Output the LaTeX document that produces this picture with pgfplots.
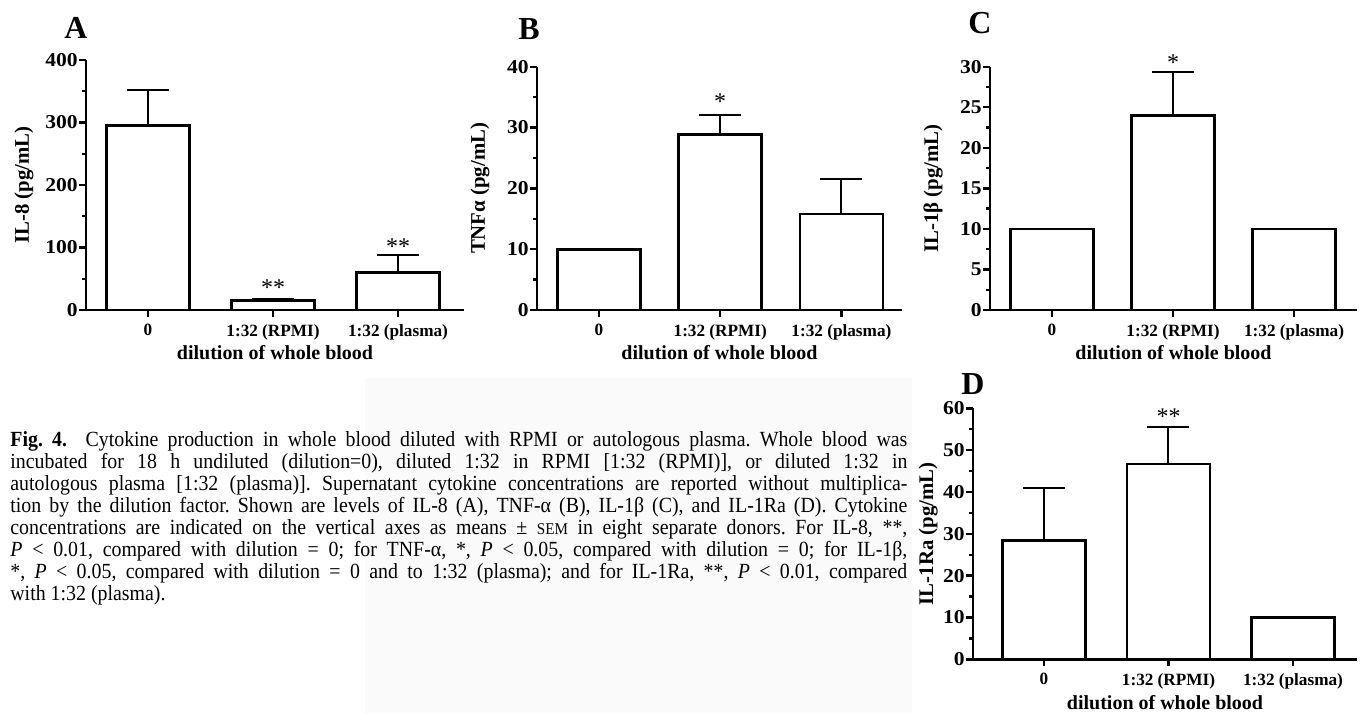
\documentclass[border=0pt]{standalone}
\usepackage{pgfplots}
\pgfplotsset{compat=1.18}
\usepackage{fontspec}
\setmainfont{Liberation Serif}
\newfontfamily\capfont[FakeStretch=0.92]{Liberation Serif}
\newfontfamily\tickfont[FakeStretch=1.1]{Liberation Serif}
\definecolor{bgfaint}{RGB}{250,250,250}

\pgfplotsset{
  prism/.style={
    scale only axis, anchor=south west,
    axis lines*=left,
    axis line style={line width=1.4pt},
    enlargelimits=false, clip=false,
    ymin=0,
    xtick={0,1,2}, xticklabels={0,{1:32 (RPMI)},{1:32 (plasma)}},
    tick align=outside,
    major tick length=3.5pt, minor tick length=2pt,
    tick style={line width=1.2pt, black},
    minor y tick num=1,
    yticklabel style={font=\tickfont\fontsize{9.8}{11}\selectfont\bfseries, inner sep=0.5pt},
    xticklabel style={font=\fontsize{8.6}{10}\selectfont\bfseries},
    /pgf/number format/assume math mode=true,
    xlabel={dilution of whole blood},
    xlabel style={font=\fontsize{10}{12}\selectfont\bfseries, anchor=center},
    ylabel style={font=\fontsize{10.4}{12}\selectfont\bfseries, anchor=center},
    ybar, bar width=41.5pt,
    error bars/y dir=plus, error bars/y explicit,
    error bars/error bar style={line width=1pt, black},
    error bars/error mark options={rotate=90, line width=1pt, black, mark size=10.5pt},
  },
  bars/.style={fill=white, draw=black, line width=1.4pt},
}
\tikzset{sig/.style={font=\fontsize{12}{12}\selectfont}}
\newcommand{\capline}[1]{\makebox[448.5pt][s]{#1}}

\begin{document}
\frenchspacing
\begin{tikzpicture}
\path[use as bounding box] (0,0) rectangle (680.5pt,-356.5pt);
\fill[bgfaint] (182.5pt,-189pt) rectangle (456pt,-356.5pt);

% A: IL-8
\begin{axis}[prism, at={(43pt,-155pt)}, width=189pt, height=125pt,
  xmin=-0.496, xmax=2.528, ymax=400, ytick={0,100,...,400},
  ylabel={IL-8 (pg/mL)},
  ylabel style={at={(axis description cs:-0.164,0.5)}},
  xlabel style={at={(axis description cs:0.5,-0.172)}}]
\addplot[bars] coordinates {(0,295) +- (0,57) (1,15) +- (0,2.5) (2,60) +- (0,28)};
\node[sig] at (axis cs:1,35) {**};
\node[sig] at (axis cs:2,102) {**};
\end{axis}

% B: TNF-alpha
\begin{axis}[prism, at={(268.5pt,-155pt)}, width=182.5pt, height=121.65pt,
  xmin=-0.512, xmax=2.5, ymax=40, ytick={0,10,...,40},
  ylabel={TNFα (pg/mL)},
  ylabel style={at={(axis description cs:-0.156,0.5)}},
  xlabel style={at={(axis description cs:0.5,-0.177)}}]
\addplot[bars] coordinates {(0,10) +- (0,0) (1,28.8) +- (0,3.3) (2,15.8) +- (0,5.7)};
\node[sig] at (axis cs:1,34.2) {*};
\end{axis}

% C: IL-1beta
\begin{axis}[prism, at={(495pt,-155pt)}, width=183.5pt, height=121.65pt,
  xmin=-0.512, xmax=2.52, ymax=30, ytick={0,5,...,30},
  ylabel={IL-1β (pg/mL)},
  ylabel style={at={(axis description cs:-0.155,0.5)}},
  xlabel style={at={(axis description cs:0.5,-0.177)}}]
\addplot[bars] coordinates {(0,10) +- (0,0) (1,24) +- (0,5.3) (2,10) +- (0,0)};
\node[sig] at (axis cs:1,30.5) {*};
\end{axis}

% D: IL-1Ra
\begin{axis}[prism, at={(486.5pt,-329.65pt)}, width=192pt, height=125.5pt,
  xmin=-0.57, xmax=2.514, ymax=60, ytick={0,10,...,60},
  ylabel={IL-1Ra (pg/mL)},
  ylabel style={at={(axis description cs:-0.117,0.5)}},
  xlabel style={at={(axis description cs:0.5,-0.171)}}]
\addplot[bars] coordinates {(0,28.4) +- (0,12.6) (1,46.7) +- (0,8.9) (2,10) +- (0,0)};
\node[sig] at (axis cs:1,58) {**};
\end{axis}

% panel letters
\begin{scope}[every node/.style={font=\fontsize{16}{18}\selectfont\bfseries}]
\node at (38pt,-14pt) {A};
\node at (264.5pt,-14.5pt) {B};
\node at (490pt,-11.5pt) {C};
\node at (486.5pt,-192pt) {D};
\end{scope}

% caption
\begin{scope}[every node/.style={anchor=base west, inner sep=0pt, font=\capfont\fontsize{10.8}{12}\selectfont}]
\node at (5pt,-223pt) {\capline{\textbf{Fig. 4.}\ \ Cytokine production in whole blood diluted with RPMI or autologous plasma. Whole blood was}};
\node at (5pt,-234pt) {\capline{incubated for 18 h undiluted (dilution=0), diluted 1:32 in RPMI [1:32 (RPMI)], or diluted 1:32 in}};
\node at (5pt,-245pt) {\capline{autologous plasma [1:32 (plasma)]. Supernatant cytokine concentrations are reported without multiplica-}};
\node at (5pt,-256pt) {\capline{tion by the dilution factor. Shown are levels of IL-8 (A), TNF-α (B), IL-1β (C), and IL-1Ra (D). Cytokine}};
\node at (5pt,-267pt) {\capline{concentrations are indicated on the vertical axes as means ± {\fontsize{8.2}{9}\selectfont SEM} in eight separate donors. For IL-8, **,}};
\node at (5pt,-278pt) {\capline{\textit{P} < 0.01, compared with dilution = 0; for TNF-α, *, \textit{P} < 0.05, compared with dilution = 0; for IL-1β,}};
\node at (5pt,-289pt) {\capline{*, \textit{P} < 0.05, compared with dilution = 0 and to 1:32 (plasma); and for IL-1Ra, **, \textit{P} < 0.01, compared}};
\node at (5pt,-300pt) {with 1:32 (plasma).};
\end{scope}
\end{tikzpicture}
\end{document}
